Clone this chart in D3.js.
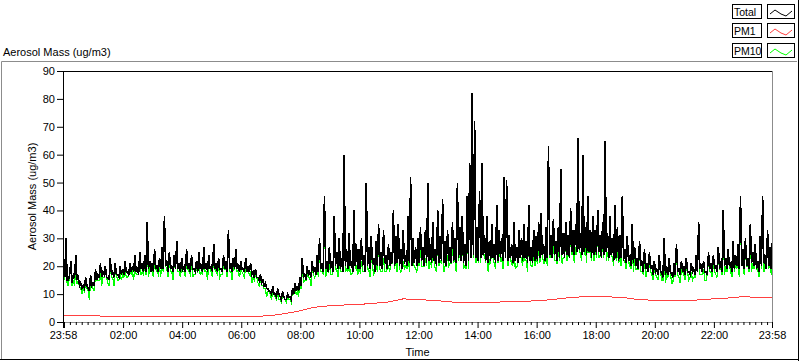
<!DOCTYPE html>
<html><head><meta charset="utf-8">
<script src="https://cdn.jsdelivr.net/npm/d3@7"></script>
<style>
body{margin:0;background:#fff}
svg{display:block;font-family:"Liberation Sans",Arial,sans-serif;font-size:11px}
</style>
</head><body>
<svg id="c" width="800" height="361"></svg>
<script>
// ---------------- data ----------------
const seriesNames = ["Total", "PM1", "PM10"];
const yTickValues = [0, 10, 20, 30, 40, 50, 60, 70, 80, 90];
const xTickLabels = ["23:58", "02:00", "04:00", "06:00", "08:00", "10:00", "12:00", "14:00", "16:00", "18:00", "20:00", "22:00", "23:58"];
const axisTitle = "Aerosol Mass (ug/m3)";
const xTitle = "Time";
const startTime = "23:58";
const stepMinutesFine = 5;   // Total / PM10 sample step (high reading at t, low reading at t + step/2)
const stepMinutesPM1 = 30;   // PM1 sample step

// Total: upper readings every 5 min
const total = [
19,30,15,22,17,24,16,14,13,16,12,17,
14,19,17,21,18,20,16,23,18,21,17,20,
19,22,18,21,20,24,19,25,21,24,36,22,
21,26,20,23,27,38,22,25,20,24,29,21,
23,20,26,21,24,19,22,25,20,27,21,24,
20,28,21,23,19,24,22,33,21,23,26,20,
22,19,23,20,21,18,19,16,17,15,14,12,
11,13,10,12,9,11,8,10,9,12,14,13,
16,23,17,20,18,22,19,24,30,21,45,22,
27,22,38,25,30,23,60,26,32,22,40,28,
26,30,24,50,27,31,23,29,35,25,33,24,
28,25,40,31,35,26,33,24,38,52,30,27,
30,34,27,33,50,28,36,26,40,31,44,29,
33,27,36,30,50,34,38,28,45,57,82,72,
34,47,57,31,38,29,35,28,42,33,30,52,
51,31,28,36,27,33,30,35,29,42,27,33,
31,36,39,28,34,63,31,37,29,34,55,32,
36,31,41,33,35,66,32,60,34,45,33,38,
33,40,31,36,65,32,38,30,42,34,31,45,
26,31,24,35,27,23,29,22,26,21,25,20,
22,19,24,18,30,20,23,17,21,28,19,22,
20,23,18,21,19,24,36,20,22,18,25,21,
24,20,27,22,40,23,26,21,29,24,28,45,
26,30,23,35,25,28,22,31,45,24,33,27,
30];

// Total: lower readings, 2.5 min after each upper reading
const totalLow = [
16,15,17,14,16,15,13,12,12,13,11,13,
13,15,16,16,17,16,15,17,16,17,16,17,
17,18,17,18,18,18,17,19,18,18,19,18,
18,19,18,19,19,20,18,19,18,19,19,18,
19,18,19,18,19,18,18,19,18,19,18,19,
18,19,18,19,18,19,18,19,18,19,19,18,
19,18,18,18,17,16,16,15,14,13,12,11,
10,10,9,10,8,9,8,9,8,10,11,11,
13,16,15,17,16,18,17,18,19,18,19,18,
19,18,20,19,19,18,20,19,20,18,20,19,
19,20,18,20,19,21,18,20,20,19,21,19,
20,21,20,21,20,19,21,20,21,20,21,20,
21,22,20,21,22,21,22,20,21,22,21,20,
22,21,22,21,23,22,21,20,22,23,24,23,
22,23,24,22,21,22,23,21,22,23,22,23,
22,23,21,22,21,23,22,23,21,22,21,22,
22,23,24,22,23,24,23,24,22,23,24,23,
24,23,25,24,25,26,24,25,24,25,23,24,
24,25,23,24,25,23,24,22,23,22,23,22,
21,22,20,21,20,19,20,18,19,18,19,17,
18,17,18,16,17,17,18,16,17,18,17,18,
17,18,17,18,17,18,19,18,18,17,19,18,
19,18,19,18,20,19,20,18,19,20,19,20,
19,20,19,21,20,19,18,20,21,19,20,19];

// PM10: upper readings every 5 min
const pm10 = [
17,26,13,19,15,21,14,12,12,14,11,15,
12,17,15,18,16,18,14,20,16,18,15,18,
17,19,16,19,18,21,17,22,18,21,31,19,
18,23,18,20,24,33,19,22,18,21,25,18,
20,18,23,18,21,17,19,22,18,24,18,21,
18,25,18,20,17,21,19,29,18,20,23,18,
19,17,20,18,18,16,17,14,15,13,12,11,
10,11,9,11,8,10,8,9,8,11,12,11,
14,20,15,17,16,19,16,21,26,18,38,19,
21,17,32,19,22,18,50,19,23,17,34,20,
19,22,18,42,19,24,17,21,30,18,23,18,
20,21,34,23,30,18,22,20,25,44,21,19,
22,26,20,23,42,21,24,19,34,22,37,20,
24,21,27,23,42,26,32,20,38,48,62,58,
26,40,48,24,30,22,27,21,36,26,23,44,
43,24,21,27,20,28,23,26,22,36,20,25,
23,27,30,21,26,53,24,28,22,26,46,23,
29,25,32,26,27,55,24,50,27,38,25,31,
26,34,24,28,54,25,30,23,36,26,24,38,
22,27,20,30,23,19,25,18,22,18,21,17,
19,16,21,15,26,17,20,14,18,24,16,19,
17,20,15,18,16,21,31,17,19,15,22,18,
21,17,23,19,34,20,22,18,25,21,24,38,
22,26,20,30,21,24,19,27,38,21,28,23,
26];

// PM10: lower readings, 2.5 min after each upper reading
const pm10Low = [
15,13,17,13,13,14,13,10,11,12,8,13,
11,15,15,13,16,16,13,16,13,17,15,15,
16,16,17,17,15,17,17,17,17,17,16,18,
16,19,17,16,18,20,16,18,15,19,18,16,
18,16,19,17,16,17,18,17,17,18,15,19,
16,19,17,16,17,19,16,18,15,19,18,16,
18,16,18,17,14,15,16,13,13,12,9,11,
8,10,8,8,7,9,7,8,7,10,10,9,
12,14,15,16,13,17,17,16,18,17,16,18,
17,18,19,16,18,18,18,18,17,18,19,17,
18,18,18,19,16,20,18,18,19,18,18,19,
18,21,19,18,19,19,19,19,18,20,20,18,
20,20,20,20,19,20,22,18,20,21,18,20,
20,21,21,18,22,22,19,19,19,23,23,21,
21,21,24,21,18,21,23,19,21,22,19,23,
20,23,20,19,20,23,20,22,18,22,20,20,
21,21,24,21,20,23,23,22,21,22,21,23,
22,23,24,21,24,26,22,24,21,25,22,22,
23,23,23,23,22,22,24,20,22,21,20,22,
19,22,19,18,19,19,18,17,16,18,18,15,
17,15,18,15,14,16,18,14,16,17,14,18,
15,18,16,15,16,18,17,17,15,17,18,16,
18,16,19,17,17,18,20,16,18,19,16,20,
17,20,18,18,19,19,16,19,18,19,19,17];

const pm1 = [
2.3,2.2,2.2,2.1,2.1,2.1,2.0,2.1,2.0,2.1,2.0,2.0,
2.0,2.0,2.3,3.0,4.0,5.3,5.8,6.1,6.3,6.7,7.2,8.3,
8.0,7.8,7.3,6.9,7.1,7.0,7.3,7.4,7.6,8.0,8.6,9.0,
9.3,9.0,8.7,8.0,7.8,7.6,7.7,7.9,8.3,8.6,9.1,8.8,
8.9];

// ---------------- layout ----------------
const L = 63, R = 772, T = 71, B = 322;
const svg = d3.select("#c");

const [sh, sm] = startTime.split(":").map(Number);
const t0 = new Date(2020, 0, 1, sh, sm);
const t1 = d3.timeDay.offset(t0, 1);

const x = d3.scaleTime().domain([t0, t1]).range([L, R]);
const y = d3.scaleLinear().domain([0, 90]).range([B, T]);

const addMin = (m) => new Date(+t0 + m * 60000);
const interleave = (hi, lo, step) => {
  const out = [];
  hi.forEach((v, i) => {
    out.push({t: addMin(i * step), v});
    if (i < lo.length) out.push({t: addMin(i * step + step / 2), v: lo[i]});
  });
  return out;
};
const toPts = (arr, step) => arr.map((v, i) => ({t: addMin(i * step), v}));

// outer frame
svg.append("line").attr("x1", 1.5).attr("y1", 61.5).attr("x2", 797).attr("y2", 61.5).attr("stroke", "#8c8c8c");
svg.append("line").attr("x1", 1.5).attr("y1", 61.5).attr("x2", 1.5).attr("y2", 359).attr("stroke", "#8c8c8c");
svg.append("line").attr("x1", 0).attr("y1", 359.5).attr("x2", 799).attr("y2", 359.5).attr("stroke", "#000");
svg.append("line").attr("x1", 798.5).attr("y1", 0).attr("x2", 798.5).attr("y2", 361).attr("stroke", "#000");

// title top-left
svg.append("text").attr("x", 3).attr("y", 56).attr("fill", "#000").text(axisTitle);

// plot frame
svg.append("line").attr("x1", L).attr("y1", T + 0.5).attr("x2", R + 1).attr("y2", T + 0.5).attr("stroke", "#000");
svg.append("line").attr("x1", R + 0.5).attr("y1", T).attr("x2", R + 0.5).attr("y2", B + 1).attr("stroke", "#8c8c8c");
svg.append("line").attr("x1", L).attr("y1", B + 0.5).attr("x2", R + 1).attr("y2", B + 0.5).attr("stroke", "#8c8c8c");

// data lines
svg.append("clipPath").attr("id", "clip").append("rect")
  .attr("x", L + 1).attr("y", T + 1).attr("width", R - L - 1).attr("height", B - T - 1);
const g = svg.append("g").attr("clip-path", "url(#clip)");
const line = d3.line().x(d => x(d.t) + 0.5).y(d => y(d.v));

g.append("path").datum(interleave(pm10, pm10Low, stepMinutesFine)).attr("d", line)
  .attr("fill", "none").attr("stroke", "#00ff00").attr("stroke-width", 1.2).attr("shape-rendering", "crispEdges");
g.append("path").datum(interleave(total, totalLow, stepMinutesFine)).attr("d", line)
  .attr("fill", "none").attr("stroke", "#000").attr("stroke-width", 1.6).attr("shape-rendering", "crispEdges");
g.append("path").datum(toPts(pm1, stepMinutesPM1)).attr("d", line)
  .attr("fill", "none").attr("stroke", "#ff4040").attr("stroke-width", 1).attr("shape-rendering", "crispEdges");

// y axis
const yAxis = d3.axisLeft(y).tickValues(yTickValues).tickSize(6).tickSizeOuter(0).tickPadding(2);
const ga = svg.append("g").attr("transform", `translate(${L},0)`).call(yAxis);
ga.selectAll("text").attr("font-family", "Liberation Sans, Arial, sans-serif").attr("font-size", 11).attr("fill", "#000");
ga.select(".domain").attr("stroke", "#000");

// x axis: major ticks
const majorTimes = [t0];
for (let h = 0; h <= 22; h += 2) majorTimes.push(new Date(2020, 0, 2, h, 0));
majorTimes.push(t1);
const labelMap = new Map();
labelMap.set(+t0, xTickLabels[0]);
for (let k = 1; k < xTickLabels.length - 1; k++) labelMap.set(+new Date(2020, 0, 2, 2 * k, 0), xTickLabels[k]);
labelMap.set(+t1, xTickLabels[xTickLabels.length - 1]);

const xAxis = d3.axisBottom(x).tickValues(majorTimes).tickSize(6).tickSizeOuter(0).tickPadding(3)
  .tickFormat(d => labelMap.get(+d) || "");
const gx = svg.append("g").attr("transform", `translate(0,${B})`).call(xAxis);
gx.select(".domain").remove();
gx.selectAll("text").attr("font-family", "Liberation Sans, Arial, sans-serif").attr("font-size", 11).attr("fill", "#000");

// minor ticks every 12 minutes
const minorTimes = d3.timeMinute.every(12).range(t0, t1).filter(d => !(d.getMinutes() === 0 && d.getHours() % 2 === 0));
const xMinor = d3.axisBottom(x).tickValues(minorTimes).tickSize(3).tickSizeOuter(0).tickFormat("");
const gm = svg.append("g").attr("transform", `translate(0,${B})`).call(xMinor);
gm.select(".domain").remove();

// axis titles
svg.append("text").attr("x", (L + R) / 2).attr("y", 356).attr("text-anchor", "middle").attr("fill", "#000").text(xTitle);
svg.append("text").attr("transform", `translate(36,${(T + B) / 2}) rotate(-90)`).attr("text-anchor", "middle").attr("fill", "#000").text(axisTitle);

// legend
const legendColors = {"Total": "#000", "PM1": "#ff4040", "PM10": "#00ff00"};
seriesNames.forEach((name, i) => {
  const top = 4 + i * 19.3;
  const lg = svg.append("g").attr("transform", `translate(0,${Math.round(top)})`);
  lg.append("rect").attr("x", 732.5).attr("y", 0.5).attr("width", 29).attr("height", 14).attr("fill", "#fff").attr("stroke", "#000");
  lg.append("text").attr("x", 734).attr("y", 11.5).attr("font-size", 10.5).attr("fill", "#000").text(name);
  lg.append("rect").attr("x", 767.5).attr("y", 0.5).attr("width", 27).attr("height", 14).attr("fill", "#fff").attr("stroke", "#000");
  lg.append("polyline").attr("points", "770,10 775,6 781,10 786,12 792,7")
    .attr("fill", "none").attr("stroke", legendColors[name]);
});
</script>
</body></html>
